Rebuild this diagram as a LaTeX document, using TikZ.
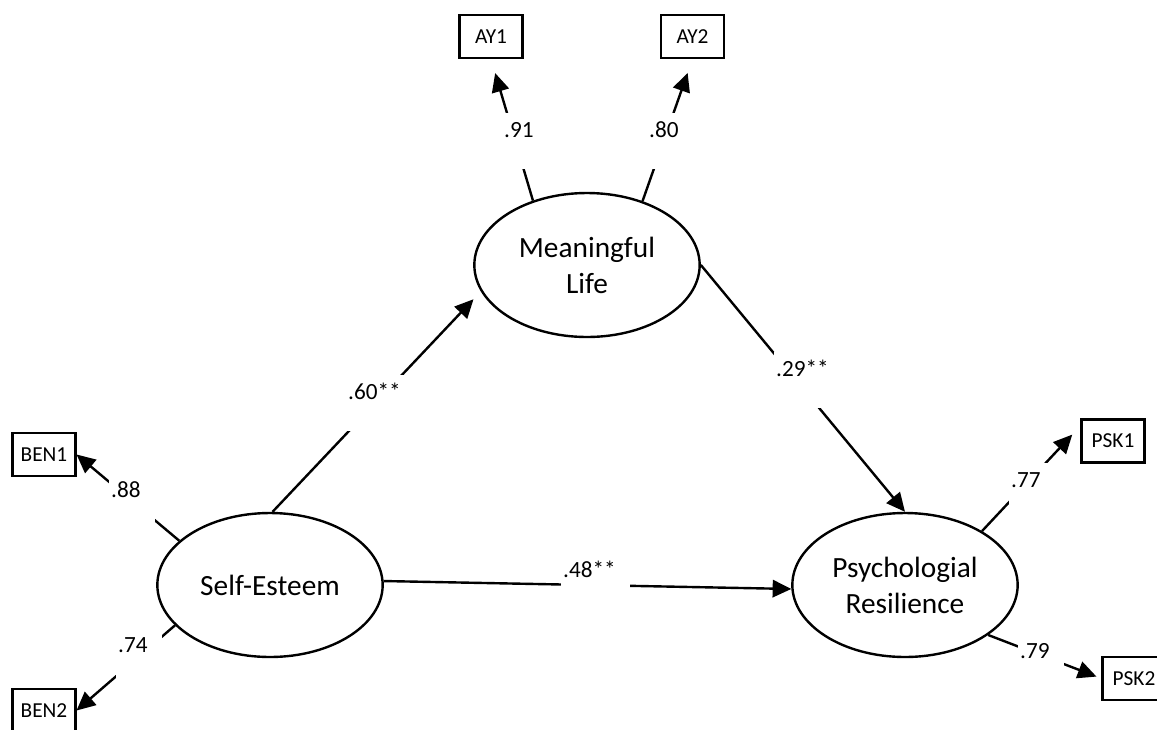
\documentclass[tikz,border=0pt]{standalone}
\usepackage{fontspec}
\setmainfont{Carlito}
\usetikzlibrary{shapes.geometric,arrows.meta}

\begin{document}
\begin{tikzpicture}[
        x=0.75pt, y=-0.75pt,
        line width=1.8pt,
        latent/.style={draw, ellipse, minimum width=169pt, minimum height=108pt, inner sep=0pt, align=center, font=\fontsize{22}{27}\selectfont},
        item/.style={draw, rectangle, minimum width=47pt, minimum height=32pt, inner sep=0pt, font=\fontsize{16}{18}\selectfont},
        coef/.style={fill=white, anchor=base west, inner xsep=1.5pt, inner ysep=0pt, text height=18pt, text depth=24pt, font=\fontsize{17.4}{20}\selectfont, execute at end node={\hspace*{9pt}}},
        effect/.style={-{Triangle[length=14pt,width=13pt]}}]

        \useasboundingbox (0,0) rectangle (1157,729);
        \clip (0,0) rectangle (1157,729);

        % latent variables
        \node[latent] (se) at (270,585) {Self-Esteem};
        \node[latent] (ml) at (587,265) {Meaningful\\Life};
        \node[latent] (pr) at (905,585) {Psychologial\\Resilience};

        % indicators
        \node[item] (ay1) at (491,36.5) {AY1};
        \node[item] (ay2) at (692.5,36.5) {AY2};
        \node[item] (ben1) at (44,454.5) {BEN1};
        \node[item] (ben2) at (44,710.5) {BEN2};
        \node[item] (psk1) at (1113,441) {PSK1};
        \node[item] (psk2) at (1134,678.5) {PSK2};

        % structural paths
        \draw[effect, shorten >=8pt] (se.88) -- (ml.194);
        \draw[effect] (ml.east) -- (pr.north);
        \draw[effect] (se.2) -- (pr.182);

        % loadings
        \draw[effect, shorten >=11pt] (ml.130) -- (ay1.south);
        \draw[effect, shorten >=11pt] (ml.49) -- (ay2.south);
        \draw[effect] (se.154) -- (ben1.east);
        \draw[effect] (se.203) -- (ben2.east);
        \draw[effect, shorten >=9pt] (pr.35) -- (psk1.155);
        \draw[effect, shorten >=4pt] (pr.-31) -- (psk2.west);

        % coefficients
        \node[coef] (c60) at (345,399) {.60**};
        \node[coef] (c29) at (773,376) {.29**};
        \node[coef] (c48) at (560,577) {.48**};
        \node[coef] (c91) at (501,137) {.91};
        \node[coef] (c80) at (646,137) {.80};
        \node[coef] (c88) at (108,497) {.88};
        \node[coef] (c74) at (115,652) {.74};
        \node[coef] (c77) at (1008,487) {.77};
        \node[coef] (c79) at (1017,658) {.79};
    \end{tikzpicture}
\end{document}
